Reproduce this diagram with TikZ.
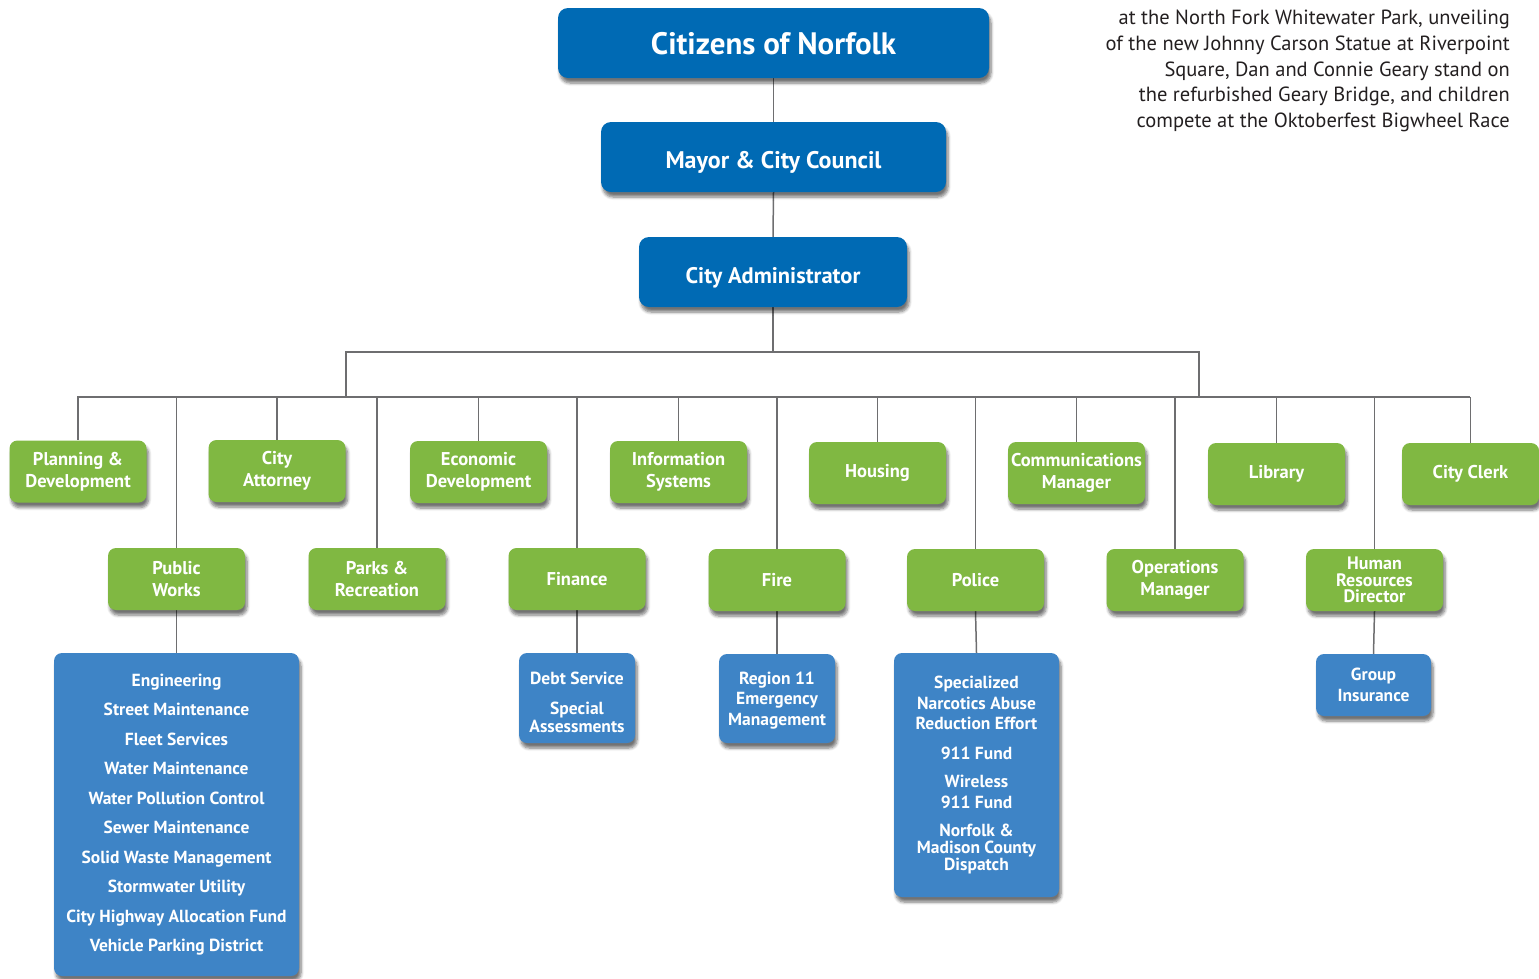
\documentclass[tikz,border=0pt]{standalone}
\usepackage{fontspec}
\setmainfont{PT Sans}
\usetikzlibrary{shadows.blur,backgrounds}
\definecolor{dblue}{RGB}{0,106,180}
\definecolor{dgreen}{RGB}{128,184,66}
\definecolor{lblue}{RGB}{62,132,198}
\definecolor{lgray}{RGB}{110,110,112}
\definecolor{captxt}{RGB}{35,31,32}
\begin{document}
\begin{tikzpicture}[x=1pt,y=-1pt,
  box/.style={rectangle, rounded corners=8pt, inner sep=0pt, align=center, text=white,
    blur shadow={shadow xshift=2pt,shadow yshift=-5pt,shadow blur radius=3pt,shadow blur steps=6,shadow opacity=55}},
  topbox/.style={box, fill=dblue, rounded corners=10pt, minimum height=70pt, text depth=0pt},
  gbox/.style={box, fill=dgreen, minimum width=137pt, minimum height=62pt, font=\bfseries\fontsize{18.5}{22}\selectfont},
  lbox/.style={box, fill=lblue, font=\bfseries\fontsize{17.5}{20.5}\selectfont},
  conn/.style={draw=lgray, line width=1.5pt}]
\useasboundingbox (0,0) rectangle (1539,978);

% top chain
\node[topbox, minimum width=431pt, font=\bfseries\fontsize{31}{34}\selectfont] (cit) at (773.5,43) {Citizens of Norfolk};
\node[topbox, minimum width=345pt, text height=23pt, font=\bfseries\fontsize{24}{26}\selectfont] (may) at (773.5,157) {Mayor \& City Council};
\node[topbox, minimum width=268pt, text height=22pt, font=\bfseries\fontsize{22.5}{24}\selectfont] (adm) at (773,272) {City Administrator};

% first row
\node[gbox] (plan) at (78,471.5) {Planning \&\\Development};
\node[gbox] (att) at (277,471) {City\\Attorney};
\node[gbox] (eco) at (478.5,472) {Economic\\Development};
\node[gbox] (info) at (678.5,472) {Information\\Systems};
\node[gbox] (hous) at (877.5,473) {Housing};
\node[gbox] (comm) at (1076.5,473) {Communications\\Manager};
\node[gbox] (lib) at (1276.5,474) {Library};
\node[gbox] (clerk) at (1470.5,474) {City Clerk};

% second row
\node[gbox] (pw) at (176.5,579) {Public\\Works};
\node[gbox] (parks) at (377,579) {Parks \&\\Recreation};
\node[gbox] (fin) at (577,579) {Finance};
\node[gbox] (fire) at (777,580) {Fire};
\node[gbox] (pol) at (975.5,580) {Police};
\node[gbox] (ops) at (1175,580) {Operations\\Manager};
\node[gbox, font=\bfseries\fontsize{18}{16.5}\selectfont] (hr) at (1374.5,580) {Human\\Resources\\Director};

% blue lists
\node[lbox, minimum width=245pt, minimum height=323pt, font=\bfseries\fontsize{17.5}{29.5}\selectfont] (pwl) at (176.5,814.5)
  {Engineering\\Street Maintenance\\Fleet Services\\Water Maintenance\\Water Pollution Control\\Sewer Maintenance\\Solid Waste Management\\Stormwater Utility\\City Highway Allocation Fund\\Vehicle Parking District};
\node[lbox, minimum width=116pt, minimum height=90pt, font=\bfseries\fontsize{17.5}{18}\selectfont] (debt) at (577,698)
  {\rule{0pt}{22pt}Debt Service\\[12pt]Special\\Assessments};
\node[lbox, minimum width=116pt, minimum height=89pt, text depth=-2pt] (reg) at (777,698.5)
  {Region 11\\Emergency\\Management};
\node[lbox, minimum width=165pt, minimum height=244pt] (poll) at (976.5,775)
  {Specialized\\Narcotics Abuse\\Reduction Effort\\[9pt]911 Fund\\[8pt]Wireless\\911 Fund\\[8pt]Norfolk \&\\[-3.5pt]Madison County\\[-3.5pt]Dispatch};
\node[lbox, minimum width=115pt, minimum height=62pt] (gi) at (1373.5,685)
  {Group\\Insurance};

% caption
\node[anchor=north east, align=right, inner sep=0pt, text=captxt, font=\fontsize{20.5}{25.7}\selectfont] (cap) at (1510,10)
  {at the North Fork Whitewater Park, unveiling\\of the new Johnny Carson Statue at Riverpoint\\Square, Dan and Connie Geary stand on\\the refurbished Geary Bridge, and children\\compete at the Oktoberfest Bigwheel Race};

% connectors
\begin{scope}[on background layer]
\coordinate (ja) at (773,352);
\coordinate (jl) at (346,352);
\coordinate (jr) at (1199,352);
\coordinate (bl) at (77,397);
\coordinate (br) at (1470,397);
\coordinate (bml) at (346,397);
\coordinate (bmr) at (1199,397);
\draw[conn] (cit.south) -- (may.north);
\draw[conn] (may.south) -- (adm.north);
\draw[conn] (adm.south) -- (ja);
\draw[conn] (bml) -- (jl) -- (jr) -- (bmr);
\draw[conn] (bl) -- (br);
\foreach \n in {plan,att,eco,info,hous,comm,lib,clerk,pw,parks,fin,fire,pol,ops,hr}
  \draw[conn] (\n.north |- bl) -- (\n.north);
\draw[conn] (pw.south) -- (pwl.north);
\draw[conn] (fin.south) -- (debt.north);
\draw[conn] (fire.south) -- (reg.north);
\draw[conn] (pol.south) -- (poll.north);
\draw[conn] (hr.south) -- (gi.north);
\end{scope}
\end{tikzpicture}
\end{document}
